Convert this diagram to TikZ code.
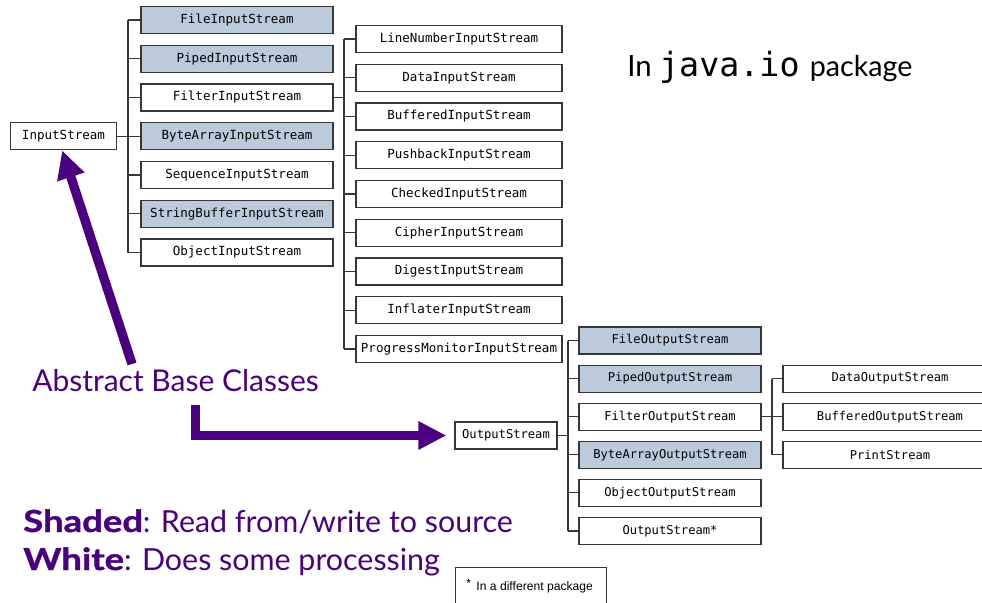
\documentclass[tikz,border=0pt]{standalone}
\usepackage{fontspec}
\setmainfont{Lato}
\setmonofont{DejaVu Sans Mono}
\newfontfamily\notefont{Liberation Sans}
\newfontfamily\widebold[FakeStretch=1.2,FakeBold=1.2]{Lato}
\usetikzlibrary{arrows.meta,calc}
\definecolor{shade}{RGB}{188,203,219}
\definecolor{edgegray}{RGB}{55,55,55}
\definecolor{violet}{RGB}{75,0,130}
\tikzset{
  cls/.style={draw=edgegray, line width=0.9pt, fill=white, inner sep=0pt,
    minimum height=20.25pt, font=\ttfamily\fontsize{9.4}{11}\selectfont},
  clsout/.style={cls, font=\ttfamily\fontsize{9.1}{11}\selectfont},
  src/.style={fill=shade},
  colA/.style={minimum width=144pt},
  colB/.style={minimum width=154.5pt},
  colC/.style={minimum width=136.5pt},
  colD/.style={minimum width=160.5pt},
  tree/.style={draw=edgegray, line width=0.8pt},
  bigarrow/.style={draw=violet, line width=7pt, -{Triangle[length=21pt,width=20pt]}},
  label/.style={text=violet, inner sep=0pt, anchor=base west}
}
\newcommand{\keyword}[1]{{\widebold\bfseries #1}}
\begin{document}
\begin{tikzpicture}[x=0.75pt,y=-0.75pt]
\useasboundingbox (0,0) rectangle (982,603);
\clip (0,0) rectangle (982,603);

% ---- InputStream hierarchy ----
\node[cls, minimum width=80pt] (is) at (63.5,136.25) {InputStream};
\coordinate (busA) at (128,0);
\node[cls,colA,src] (fis)  at (237,20)     {FileInputStream};
\node[cls,colA,src] (pis)  at (237,58.75)  {PipedInputStream};
\node[cls,colA]     (fltis) at (237,97.5)  {FilterInputStream};
\node[cls,colA,src] (bais) at (237,136.25) {ByteArrayInputStream};
\node[cls,colA]     (sqis) at (237,175)    {SequenceInputStream};
\node[cls,colA,src] (sbis) at (237,213.75) {StringBufferInputStream};
\node[cls,colA]     (obis) at (237,252.5)  {ObjectInputStream};

\draw[tree] (is.east) -- (is.east -| busA);
\draw[tree] (busA |- fis.west) -- (busA |- obis.west);
\foreach \n in {fis,pis,fltis,bais,sqis,sbis,obis}
  \draw[tree] (busA |- \n.west) -- (\n.west);

% ---- FilterInputStream subclasses ----
\coordinate (busB) at (344,0);
\node[cls,colB] (lnis) at (459,39)     {LineNumberInputStream};
\node[cls,colB] (dis)  at (459,77.75)  {DataInputStream};
\node[cls,colB] (bis)  at (459,116.5)  {BufferedInputStream};
\node[cls,colB] (pbis) at (459,155.25) {PushbackInputStream};
\node[cls,colB] (cis)  at (459,194)    {CheckedInputStream};
\node[cls,colB] (cpis) at (459,232.75) {CipherInputStream};
\node[cls,colB] (dgis) at (459,271.5)  {DigestInputStream};
\node[cls,colB] (ifis) at (459,310.25) {InflaterInputStream};
\node[cls,colB] (pmis) at (459,349)    {ProgressMonitorInputStream};

\draw[tree] (fltis.east) -- (fltis.east -| busB);
\draw[tree] (busB |- lnis.west) -- (busB |- pmis.west);
\foreach \n in {lnis,dis,bis,pbis,cis,cpis,dgis,ifis,pmis}
  \draw[tree] (busB |- \n.west) -- (\n.west);

% ---- OutputStream hierarchy ----
\node[clsout, minimum width=76.5pt] (os) at (506,435.5) {OutputStream};
\coordinate (busC) at (568,0);
\node[clsout,colC,src] (fos)  at (670,340.5) {FileOutputStream};
\node[clsout,colC,src] (pos)  at (670,378.6) {PipedOutputStream};
\node[clsout,colC]     (fltos) at (670,416.7) {FilterOutputStream};
\node[clsout,colC,src] (baos) at (670,454.8) {ByteArrayOutputStream};
\node[clsout,colC]     (obos) at (670,492.9) {ObjectOutputStream};
\node[clsout,colC]     (xos)  at (670,531)   {OutputStream*};

\draw[tree] (os.east) -- (os.east -| busC);
\draw[tree] (busC |- fos.west) -- (busC |- xos.west);
\foreach \n in {fos,pos,fltos,baos,obos,xos}
  \draw[tree] (busC |- \n.west) -- (\n.west);

% ---- FilterOutputStream subclasses ----
\coordinate (busD) at (772,0);
\node[clsout,colD] (dos) at (890,378.6) {DataOutputStream};
\node[clsout,colD] (bos) at (890,416.7) {BufferedOutputStream};
\node[clsout,colD] (prs) at (890,454.8) {PrintStream};

\draw[tree] (fltos.east) -- (fltos.east -| busD);
\draw[tree] (busD |- dos.west) -- (busD |- prs.west);
\foreach \n in {dos,bos,prs}
  \draw[tree] (busD |- \n.west) -- (\n.west);

% ---- footnote box ----
\node[draw=edgegray, line width=0.9pt, minimum width=113pt, minimum height=36pt,
      inner sep=0pt, anchor=north west] (note) at (455,567) {};
\node[inner sep=0pt, anchor=base west, font=\notefont\fontsize{9.1}{11}\selectfont]
  (notetext) at (466,590) {\raisebox{0.35ex}{*}\hspace{0.45em}In a different package};

% ---- annotations ----
\node[inner sep=0pt, anchor=base west, font=\fontsize{22}{26}\selectfont] (pkg) at (627,76)
  {In \texttt{\fontsize{25}{28}\selectfont java.io}\hspace{0.35em}\fontsize{21.5}{26}\selectfont package};
\node[label, font=\fontsize{22.5}{26}\selectfont] (abc) at (32,391) {Abstract Base Classes};
\node[label, font=\fontsize{22.8}{26}\selectfont] (shd) at (23,532)
  {\keyword{Shaded}: Read from/write to source};
\node[label, font=\fontsize{22.8}{26}\selectfont] (wht) at (23,570)
  {\keyword{White}: Does some processing};

% ---- pointer arrows ----
\coordinate (upstart) at (132,364);
\coordinate (elbow) at (195.5,405);
\draw[bigarrow] (upstart) -- ([xshift=-1pt]is.south);
\draw[bigarrow, shorten >=6pt] (elbow) |- (os.west);
\end{tikzpicture}
\end{document}
